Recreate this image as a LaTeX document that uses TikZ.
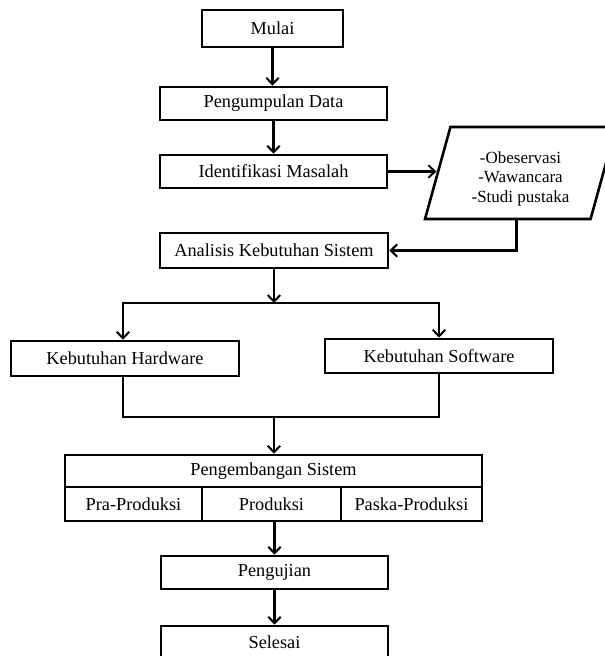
\documentclass[tikz,border=0pt]{standalone}
\usepackage{fontspec}
\setmainfont{Liberation Serif}
\usepackage{tikz}
\usetikzlibrary{calc}
\usetikzlibrary{arrows.meta}
\usetikzlibrary{shapes.geometric}

\begin{document}
\begin{tikzpicture}[x=1pt,y=-1pt,
				kotak/.style={draw,line width=2.6pt,inner sep=0pt,font=\fontsize{18.3}{19}\selectfont},
				panah/.style={line width=2.6pt,-{Straight Barb[length=6.5pt,width=12.5pt,line width=2pt]}},
				garis/.style={line width=2.6pt}]
				\useasboundingbox (0,0) rectangle (605,656);
				\clip (0,0) rectangle (605,656);
				
				\node[kotak,minimum width=141pt,minimum height=37pt] (mulai) at (272.5,28.5) {Mulai};
				\node[kotak,minimum width=227pt,minimum height=33pt] (kumpul) at (273.5,103.5) {Pengumpulan Data};
				\node[kotak,minimum width=227pt,minimum height=33pt] (identifikasi) at (273.5,171.5) {Identifikasi Masalah};
				\node[kotak,trapezium,trapezium left angle=75,trapezium right angle=105,trapezium stretches=true,
					minimum width=191pt,minimum height=92pt,align=center,font=\fontsize{17}{19.5}\selectfont]
					(metode) at (520.5,173) {\\[4pt]-Obeservasi\\-Wawancara\\-Studi pustaka};
				\node[kotak,minimum width=228pt,minimum height=35pt] (analisis) at (274,250.5) {Analisis Kebutuhan Sistem};
				
				\node[kotak,minimum width=228pt,minimum height=35pt] (hardware) at (125,358.5) {Kebutuhan Hardware};
				\node[kotak,minimum width=228pt,minimum height=34pt] (software) at (439,356) {Kebutuhan Software};
				\coordinate (split) at (274,303);
				\coordinate (merge) at (274,417);
				
				\node[kotak,minimum width=417pt,minimum height=32pt] (kembang) at (273.5,471) {Pengembangan Sistem};
				\node[kotak,minimum width=137pt,minimum height=34pt] (pra) at (133.5,504) {Pra-Produksi};
				\node[kotak,minimum width=139pt,minimum height=34pt] (produksi) at (271.5,504) {Produksi};
				\node[kotak,minimum width=141pt,minimum height=34pt] (paska) at (411.5,504) {Paska-Produksi};
				
				\node[kotak,minimum width=227pt,minimum height=33pt] (pengujian) at (274.5,572.5) {Pengujian};
				\node[kotak,minimum width=227pt,minimum height=33pt] (selesai) at (274.5,642.5) {Selesai};
				
				\draw[panah] (mulai.south) -- (mulai.south |- kumpul.north);
				\draw[panah] (kumpul.south) -- (identifikasi.north);
				\draw[panah] (identifikasi.east) -- (identifikasi.east -| metode.west);
				\draw[panah] ([xshift=-4pt]metode.south) |- (analisis.east);
				
				\draw[panah] (analisis.south) -- (split);
				\draw[panah] (split) -| ([xshift=-2pt]hardware.north);
				\draw[panah] (split) -| (software.north);
				\draw[garis] ([xshift=-2pt]hardware.south) |- (merge);
				\draw[garis] (software.south) |- (merge);
				\draw[panah] (merge) -- (merge |- kembang.north);
				
				\draw[panah] (pengujian.north |- produksi.south) -- (pengujian.north);
				\draw[panah] (pengujian.south) -- (selesai.north);
			\end{tikzpicture}
\end{document}
